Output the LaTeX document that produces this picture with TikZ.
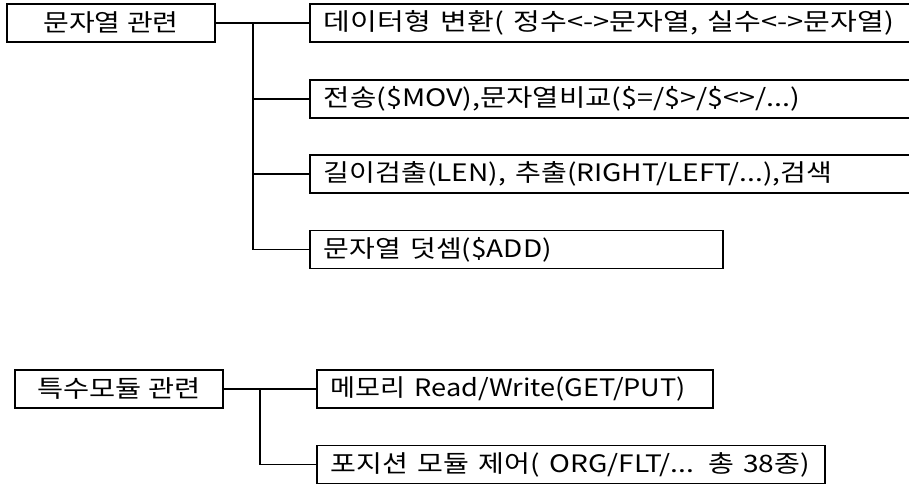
\documentclass[tikz,border=0pt]{standalone}
\usepackage{graphicx}
\usepackage{fontspec}
\newfontfamily\kr{Noto Sans CJK KR}
\newcommand{\fitw}[2]{\resizebox{#1}{\height}{#2}}
\begin{document}
\begin{tikzpicture}[x=1pt,y=-1pt,
  box/.style={draw=black, line width=1.8pt, minimum height=38pt, inner ysep=0pt, font=\kr\fontsize{24}{26}\selectfont},
  parent/.style={box, anchor=center, inner xsep=0pt},
  child/.style={box, anchor=west, inner xsep=14pt, align=left},
  conn/.style={line width=1.8pt}]
\useasboundingbox (0,0) rectangle (909,486);
\clip (0,0) rectangle (909,486);
% group 1
\node[parent, minimum width=208pt] (p1) at (111,23) {\fitw{135pt}{문자열 관련}};
\node[child, text width=578pt] (c1) at (309,23) {\fitw{570pt}{데이터형 변환( 정수<->문자열, 실수<->문자열)}};
\node[child, text width=578pt] (c2) at (309,99) {\fitw{476pt}{전송(\$MOV),문자열비교(\$=/\$>/\$<>/...)}};
\node[child, text width=578pt] (c3) at (309,174) {\fitw{508pt}{길이검출(LEN), 추출(RIGHT/LEFT/...),검색}};
\node[child, text width=385pt] (c4) at (309,249.5) {\fitw{228pt}{문자열 덧셈(\$ADD)}};
\coordinate (j1) at (253,23);
\draw[conn] (p1.east) -- (c1.west);
\draw[conn] (j1) |- (c4.west);
\draw[conn] (j1 |- c2.west) -- (c2.west);
\draw[conn] (j1 |- c3.west) -- (c3.west);
% group 2
\node[parent, minimum width=208pt] (p2) at (119,389) {\fitw{163pt}{특수모듈 관련}};
\node[child, text width=368pt] (d1) at (316,389) {\fitw{355pt}{메모리 Read/Write(GET/PUT)}};
\node[child, text width=480pt] (d2) at (316,464.5) {\fitw{479pt}{포지션 모듈 제어( ORG/FLT/... 총 38종)}};
\coordinate (j2) at (260,389);
\draw[conn] (p2.east) -- (d1.west);
\draw[conn] (j2) |- (d2.west);
\end{tikzpicture}
\end{document}
